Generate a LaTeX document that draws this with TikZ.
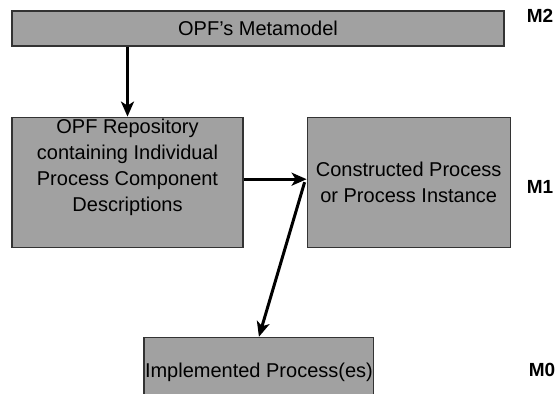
\documentclass[tikz,border=0pt]{standalone}
\usepackage{fontspec}
\setmainfont{Liberation Sans}
\usepackage{tikz}
\usetikzlibrary{arrows.meta,positioning}

\begin{document}
\begin{tikzpicture}
  \tikzset{>={Stealth[length=15pt,width=13pt,inset=4pt]}}
  \tikzset{box/.style={draw=black!80, line width=1.2pt, fill=black!37, align=center,
      font=\fontsize{20}{26}\selectfont, inner sep=1pt}}
  \tikzset{level/.style={font=\fontsize{19}{21}\selectfont\bfseries}}
  \tikzset{link/.style={->, line width=3pt}}
  \useasboundingbox (0,0) rectangle (555pt,394pt);
    % Model boxes
    \node [box, minimum width=492pt, minimum height=35pt] (metamodel) at (258pt,365.5pt) {OPF's Metamodel};
    \node [box, minimum width=231pt, minimum height=130pt, text depth=34pt,
      below=70pt of metamodel.south west, anchor=north west] (repository)
      {OPF Repository\\containing Individual\\Process Component\\Descriptions};
    \node [box, minimum width=203pt, minimum height=130pt,
      right=63pt of repository.north east, anchor=north west] (constructed)
      {Constructed Process\\or Process Instance};
    \node [box, minimum width=227pt, minimum height=70pt,
      below=89pt of repository.south west, xshift=132pt, anchor=north west] (implemented)
      {Implemented Process(es)};
    % Level labels
    \node [level] (m2) at (540pt,378pt) {M2};
    \node [level] (m1) at (540pt,207pt) {M1};
    \node [level] (m0) at (542pt,24pt) {M0};
    % Arrows
    \draw[link] (repository.north |- metamodel.south) -- (repository.north);
    \draw[link] ([yshift=3pt]repository.east) -- ([yshift=3pt]repository.east -| constructed.west);
    \draw[link] ([xshift=-2pt]constructed.west) -- (implemented.north);
\end{tikzpicture}
\end{document}
